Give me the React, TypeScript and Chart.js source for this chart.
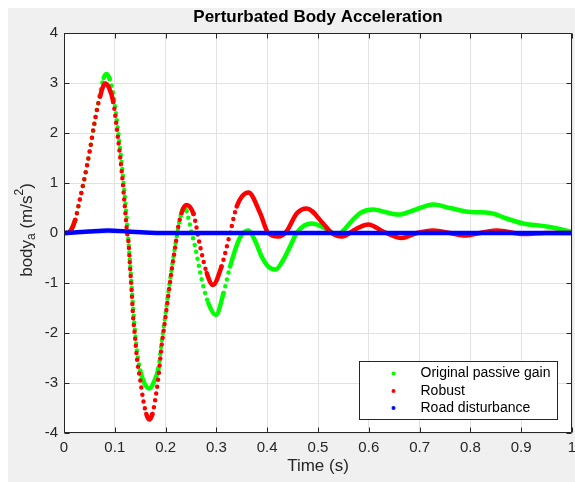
import React, { useEffect, useRef } from "react";
import { Chart, registerables } from "chart.js";

Chart.register(...registerables);

// ---- data ----
const passiveTime = [0, 0.008, 0.014, 0.022, 0.031, 0.041, 0.051, 0.061, 0.071, 0.078, 0.084, 0.09, 0.097, 0.107, 0.114, 0.121, 0.126, 0.13, 0.134, 0.138, 0.143, 0.15, 0.158, 0.168, 0.177, 0.186, 0.192, 0.199, 0.205, 0.212, 0.219, 0.225, 0.23, 0.235, 0.241, 0.247, 0.252, 0.258, 0.271, 0.284, 0.299, 0.314, 0.327, 0.346, 0.363, 0.376, 0.389, 0.403, 0.417, 0.431, 0.445, 0.458, 0.473, 0.488, 0.505, 0.524, 0.537, 0.55, 0.569, 0.585, 0.609, 0.632, 0.658, 0.69, 0.727, 0.76, 0.8, 0.839, 0.871, 0.904, 0.95, 0.98, 1.0];
const passiveGain = [0, 0.0, 0.06, 0.26, 0.66, 1.13, 1.66, 2.26, 2.8, 3.1, 3.18, 3.08, 2.78, 2.0, 1.35, 0.6, -0.05, -0.6, -1.2, -1.75, -2.3, -2.75, -3.0, -3.11, -2.98, -2.7, -2.2, -1.68, -1.22, -0.72, -0.25, 0.12, 0.35, 0.49, 0.44, 0.2, -0.02, -0.27, -0.93, -1.4, -1.64, -1.2, -0.67, -0.1, 0.05, -0.15, -0.47, -0.68, -0.73, -0.55, -0.27, 0.0, 0.15, 0.19, 0.14, 0.03, -0.04, 0.05, 0.27, 0.41, 0.47, 0.42, 0.37, 0.46, 0.57, 0.5, 0.42, 0.4, 0.29, 0.19, 0.13, 0.07, 0.02];

const robustTime = [0, 0.008, 0.014, 0.022, 0.031, 0.041, 0.051, 0.061, 0.071, 0.081, 0.088, 0.097, 0.107, 0.114, 0.12, 0.124, 0.127, 0.13, 0.133, 0.136, 0.14, 0.144, 0.15, 0.156, 0.162, 0.168, 0.174, 0.179, 0.186, 0.192, 0.199, 0.205, 0.212, 0.219, 0.225, 0.233, 0.241, 0.248, 0.255, 0.268, 0.281, 0.293, 0.31, 0.327, 0.34, 0.363, 0.386, 0.402, 0.422, 0.438, 0.458, 0.478, 0.51, 0.527, 0.547, 0.575, 0.599, 0.63, 0.665, 0.695, 0.727, 0.76, 0.786, 0.852, 0.904, 0.95, 1.0];
const robust = [0, 0.0, 0.06, 0.26, 0.66, 1.13, 1.66, 2.26, 2.73, 2.99, 2.92, 2.62, 1.83, 1.19, 0.5, 0.03, -0.19, -0.67, -1.14, -1.67, -2.1, -2.54, -2.94, -3.34, -3.62, -3.73, -3.62, -3.37, -2.87, -2.27, -1.74, -1.27, -0.74, -0.27, 0.13, 0.45, 0.56, 0.52, 0.38, -0.27, -0.8, -1.04, -0.67, 0.0, 0.53, 0.81, 0.4, 0.0, -0.07, 0.03, 0.39, 0.49, 0.19, 0.0, -0.07, 0.08, 0.17, 0.02, -0.1, 0.0, 0.05, 0.0, -0.05, 0.05, -0.02, 0.0, 0.0];

const roadTime = [0, 0.02, 0.048, 0.087, 0.127, 0.16, 0.2, 0.3, 0.5, 0.7, 0.9, 1.0];
const roadDisturbance = [0, 0.01, 0.03, 0.05, 0.03, 0.01, 0, 0, 0, 0, 0, 0];

const xTicks = [0, 0.1, 0.2, 0.3, 0.4, 0.5, 0.6, 0.7, 0.8, 0.9, 1];
const yTicks = [-4, -3, -2, -1, 0, 1, 2, 3, 4];

const seriesLabels = ["Original passive gain", "Robust", "Road disturbance"];
const seriesColors = ["#00ff00", "#ff0000", "#0000ff"];

const AXIS = "#262626";
const FONT = "'Liberation Sans', Arial, Helvetica, sans-serif";

if (typeof document !== "undefined") {
  document.documentElement.style.overflow = "hidden";
  document.body.style.margin = "0";
}

const toPoints = (xs: number[], ys: number[]) => xs.map((x, i) => ({ x, y: ys[i] }));

const steepDash = (ctx: any) => {
  const dx = Math.abs(ctx.p1.x - ctx.p0.x);
  const dy = Math.abs(ctx.p1.y - ctx.p0.y);
  return dy > 3.5 * dx ? [0, 7] : undefined;
};

const matlabPlugin = {
  id: "matlabLook",
  beforeDraw(chart: any) {
    const { ctx, chartArea: a, width, height } = chart;
    ctx.save();
    ctx.fillStyle = "#f0f0f0";
    ctx.fillRect(0, 0, width, height);
    ctx.fillStyle = "#ffffff";
    ctx.fillRect(a.left, a.top, a.right - a.left, a.bottom - a.top);
    ctx.restore();
  },
  afterDatasetsDraw(chart: any) {
    const { ctx, chartArea: a, scales } = chart;
    ctx.save();
    ctx.strokeStyle = AXIS;
    ctx.lineWidth = 1;
    ctx.beginPath();
    const L = Math.round(a.left) + 0.5, R = Math.round(a.right) - 0.5;
    const T = Math.round(a.top) + 0.5, B = Math.round(a.bottom) - 0.5;
    ctx.rect(L, T, R - L, B - T);
    const tl = 5;
    xTicks.forEach((v) => {
      const px = Math.round(scales.x.getPixelForValue(v)) + 0.5;
      ctx.moveTo(px, B); ctx.lineTo(px, B - tl);
      ctx.moveTo(px, T); ctx.lineTo(px, T + tl);
    });
    yTicks.forEach((v) => {
      const py = Math.round(scales.y.getPixelForValue(v)) + 0.5;
      ctx.moveTo(L, py); ctx.lineTo(L + tl, py);
      ctx.moveTo(R, py); ctx.lineTo(R - tl, py);
    });
    ctx.stroke();
    ctx.restore();
  },
  afterDraw(chart: any) {
    const { ctx, chartArea: a } = chart;
    // legend
    ctx.save();
    const bw = 198, bh = 58;
    const bx = Math.round(a.right - 15 - bw) + 0.5;
    const by = Math.round(a.bottom - 14 - bh) + 0.5;
    ctx.fillStyle = "#ffffff";
    ctx.fillRect(bx, by, bw, bh);
    ctx.strokeStyle = AXIS;
    ctx.lineWidth = 1;
    ctx.strokeRect(bx, by, bw, bh);
    ctx.font = `14px ${FONT}`;
    ctx.textBaseline = "middle";
    ctx.textAlign = "left";
    const rows = [12, 29.5, 46.5];
    chart.data.datasets.forEach((ds: any, i: number) => {
      const cy = by + rows[i];
      ctx.fillStyle = ds.borderColor;
      ctx.beginPath();
      ctx.arc(bx + 34, cy, 2, 0, Math.PI * 2);
      ctx.fill();
      ctx.fillStyle = "#000000";
      ctx.fillText(ds.label, bx + 61, cy);
    });
    ctx.restore();

    // y axis title with subscript / superscript
    ctx.save();
    const big = `17px ${FONT}`;
    const small = `12px ${FONT}`;
    const parts: [string, string, number][] = [
      ["body", big, 0],
      ["a", small, 5],
      [" (m/s", big, 0],
      ["2", small, -7],
      [")", big, 0],
    ];
    let total = 0;
    parts.forEach(([t, f]) => { ctx.font = f; total += ctx.measureText(t).width; });
    ctx.translate(19, (a.top + a.bottom) / 2 - 3);
    ctx.rotate(-Math.PI / 2);
    ctx.fillStyle = AXIS;
    ctx.textBaseline = "middle";
    ctx.textAlign = "left";
    let x = -total / 2;
    parts.forEach(([t, f, dy]) => {
      ctx.font = f;
      ctx.fillText(t, x, dy);
      x += ctx.measureText(t).width;
    });
    ctx.restore();
  },
};

export default function App() {
  const canvasRef = useRef<HTMLCanvasElement | null>(null);

  useEffect(() => {
    if (!canvasRef.current) return;
    const common = {
      pointRadius: 0,
      borderWidth: 4.5,
      borderCapStyle: "round" as const,
      borderJoinStyle: "round" as const,
      cubicInterpolationMode: "monotone" as const,
      fill: false,
    };
    const chart = new Chart(canvasRef.current, {
      type: "line",
      data: {
        datasets: [
          {
            ...common,
            label: seriesLabels[0],
            data: toPoints(passiveTime, passiveGain),
            borderColor: seriesColors[0],
            backgroundColor: seriesColors[0],
            order: 2,
            segment: { borderDash: steepDash },
          },
          {
            ...common,
            label: seriesLabels[1],
            data: toPoints(robustTime, robust),
            borderColor: seriesColors[1],
            backgroundColor: seriesColors[1],
            order: 1,
            segment: { borderDash: steepDash },
          },
          {
            ...common,
            label: seriesLabels[2],
            data: toPoints(roadTime, roadDisturbance),
            borderColor: seriesColors[2],
            backgroundColor: seriesColors[2],
            order: 0,
          },
        ],
      } as any,
      options: {
        animation: false,
        responsive: false,
        devicePixelRatio: 1,
        events: [],
        layout: { padding: { left: 0, right: 3, top: 0, bottom: 0 } },
        plugins: {
          legend: { display: false },
          tooltip: { enabled: false },
          title: {
            display: true,
            text: "Perturbated Body Acceleration",
            fullSize: false,
            color: "#000000",
            font: { family: FONT, size: 17, weight: "bold", lineHeight: 1 },
            padding: { top: 1, bottom: 7 },
          },
        },
        scales: {
          x: {
            type: "linear",
            min: 0,
            max: 1,
            afterBuildTicks: (s: any) => { s.ticks = xTicks.map((v) => ({ value: v })); },
            afterFit: (s: any) => { s.height = 49; s.paddingLeft = 0; s.paddingRight = 0; },
            ticks: {
              color: AXIS,
              font: { family: FONT, size: 15 },
              padding: 6,
              maxRotation: 0,
              autoSkip: false,
              callback: (v: any) => String(Number(v)),
            },
            grid: { color: "#e2e2e2", lineWidth: 1, drawTicks: false },
            border: { display: false },
            title: {
              display: true,
              text: "Time (s)",
              color: AXIS,
              font: { family: FONT, size: 17, lineHeight: 1.2 },
              padding: { top: 0, bottom: 5 },
            },
          },
          y: {
            type: "linear",
            min: -4,
            max: 4,
            afterBuildTicks: (s: any) => { s.ticks = yTicks.map((v) => ({ value: v })); },
            afterFit: (s: any) => { s.width = 56; s.paddingTop = 0; s.paddingBottom = 0; },
            ticks: {
              color: AXIS,
              font: { family: FONT, size: 15 },
              padding: 6,
              autoSkip: false,
              callback: (v: any) => String(Number(v)),
            },
            grid: { color: "#e2e2e2", lineWidth: 1, drawTicks: false },
            border: { display: false },
          },
        },
      } as any,
      plugins: [matlabPlugin],
    });
    return () => chart.destroy();
  }, []);

  return (
    <div style={{ width: 575, height: 482, boxSizing: "border-box", paddingLeft: 8, paddingTop: 8, background: "#ffffff" }}>
      <canvas ref={canvasRef} width={567} height={474} style={{ display: "block", width: 567, height: 474 }} />
    </div>
  );
}
